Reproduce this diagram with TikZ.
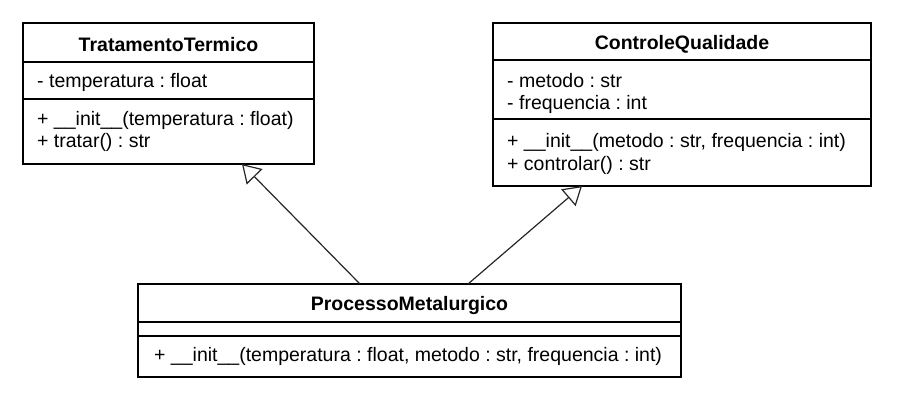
\documentclass[tikz,border=0pt]{standalone}
\usepackage{fontspec}
\setmainfont{Liberation Sans}
\usetikzlibrary{arrows.meta,calc}
\frenchspacing
\begin{document}
\begin{tikzpicture}[x=1pt,y=-1pt,
  classbox/.style={draw=black, line width=2.4pt, fill=white, inner sep=0pt, outer sep=0pt},
  sepline/.style={draw=black, line width=1.2pt},
  titletext/.style={font=\fontsize{19.5}{23}\selectfont\bfseries, inner sep=0pt, anchor=center},
  membertext/.style={font=\fontsize{19.5}{23}\selectfont, inner sep=0pt, anchor=west},
  gen/.style={draw=black!85, line width=1.2pt, -{Triangle[length=18pt,width=22pt,fill=white]}}
]
\useasboundingbox (0,0) rectangle (914,410);
% boxes
\node[classbox, minimum width=291pt, minimum height=141pt] (tt) at (168.5,93.5) {};
\node[classbox, minimum width=378pt, minimum height=163pt] (cq) at (682,104.5) {};
\node[classbox, minimum width=543pt, minimum height=93pt] (pm) at (409.5,330.5) {};
% separators
\draw[sepline] (23,62) -- (314,62);
\draw[sepline] (23,99) -- (314,99);
\draw[sepline] (493,60) -- (871,60);
\draw[sepline] (493,119) -- (871,119);
\draw[sepline] (138,322) -- (681,322);
\draw[sepline] (138,336) -- (681,336);
% texts
\node[titletext] (ttT) at (168.5,45) {TratamentoTermico};
\node[membertext] (tt1) at (37,82) {- temperatura : float};
\node[membertext] (tt2) at (37,120) {+ \_\_init\_\_(temperatura : float)};
\node[membertext] (tt3) at (37,142) {+ tratar() : str};
\node[titletext] (cqT) at (682,44) {ControleQualidade};
\node[membertext] (cq1) at (507,81) {- metodo : str};
\node[membertext] (cq2) at (507,104) {- frequencia : int};
\node[membertext] (cq3) at (507,142) {+ \_\_init\_\_(metodo : str, frequencia : int)};
\node[membertext] (cq4) at (507,165) {+ controlar() : str};
\node[titletext] (pmT) at (409.5,305) {ProcessoMetalurgico};
\node[membertext] (pm1) at (154,356) {+ \_\_init\_\_(temperatura : float, metodo : str, frequencia : int)};
% connectors
\coordinate (pmL) at ($(pm.north west)+(222,0)$);
\coordinate (pmR) at ($(pm.north west)+(330,0)$);
\coordinate (ttB) at ($(tt.south west)+(219,0)$);
\coordinate (cqB) at ($(cq.south west)+(89,0)$);
\draw[gen] (pmL) -- (ttB);
\draw[gen] (pmR) -- (cqB);
\end{tikzpicture}
\end{document}
